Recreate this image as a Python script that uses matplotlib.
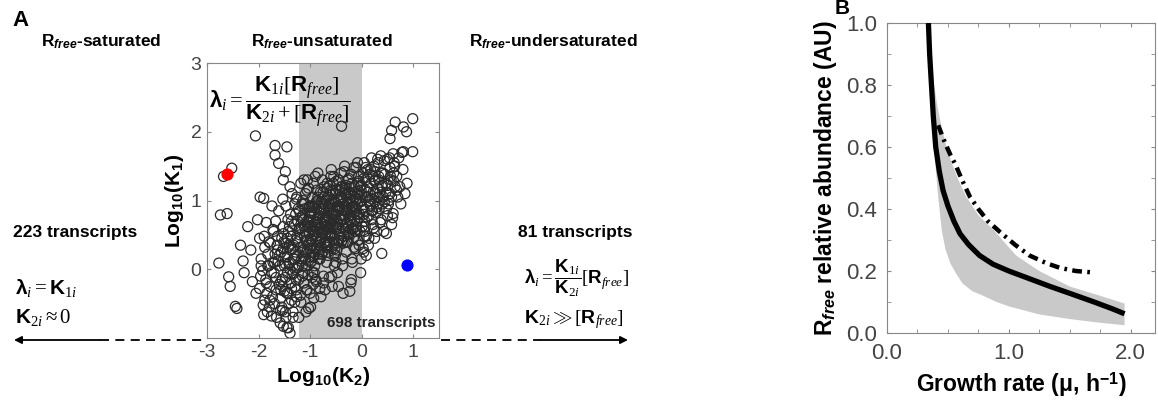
import matplotlib
matplotlib.use("Agg")
from matplotlib import pyplot as plt
from matplotlib.ticker import MultipleLocator, FixedLocator

plt.rcParams['font.family'] = ['Liberation Sans', 'DejaVu Sans']
plt.rcParams['axes.unicode_minus'] = False
plt.rcParams['mathtext.fontset'] = 'custom'
plt.rcParams['mathtext.rm'] = 'Liberation Serif'
plt.rcParams['mathtext.it'] = 'Liberation Serif:italic'
plt.rcParams['mathtext.bf'] = 'Liberation Sans:bold'
plt.rcParams['mathtext.sf'] = 'Liberation Sans:bold:italic'

# ---- panel A: log10(K2) vs log10(K1) ----
k2_core = [-2.35, -2.28, -2.21, -2.15, -2.05, -1.98, -2.30, -2.12, -1.95, -2.02,
           -1.88, -1.82, -1.75, -1.71, -1.66, -1.61, -1.55, -1.52, -1.85, -1.78,
           -1.69, -1.58, -1.63, -1.74, -1.50, -1.92, -1.80, -1.57, -1.67, -1.53,
           -1.48, -1.45, -1.42, -1.40, -1.37, -1.35, -1.32, -1.30, -1.28, -1.25,
           -1.22, -1.20, -1.18, -1.15, -1.13, -1.47, -1.43, -1.38, -1.33, -1.27,
           -1.24, -1.19, -1.16, -1.12, -1.44, -1.36, -1.29, -1.21, -1.14, -1.41,
           -1.09, -1.07, -1.05, -1.03, -1.01, -0.99, -0.97, -0.95, -0.93, -0.91,
           -0.89, -0.87, -0.85, -0.83, -0.81, -0.79, -0.77, -0.75, -0.73, -0.71,
           -1.08, -1.04, -1.00, -0.96, -0.92, -0.88, -0.84, -0.80, -0.76, -0.72,
           -1.06, -1.02, -0.98, -0.94, -0.90, -0.86, -0.82, -0.78, -0.74, -0.70,
           -0.99, -0.91, -0.85, -0.79, -0.73,
           -0.69, -0.67, -0.65, -0.63, -0.61, -0.59, -0.57, -0.55, -0.53, -0.51,
           -0.49, -0.47, -0.45, -0.43, -0.41, -0.39, -0.37, -0.35, -0.33, -0.31,
           -0.68, -0.64, -0.60, -0.56, -0.52, -0.48, -0.44, -0.40, -0.36, -0.32,
           -0.66, -0.62, -0.58, -0.54, -0.50, -0.46, -0.42, -0.38, -0.34, -0.30,
           -0.63, -0.55, -0.47, -0.39, -0.58,
           -0.29, -0.27, -0.25, -0.23, -0.21, -0.19, -0.17, -0.15, -0.13, -0.11,
           -0.09, -0.07, -0.05, -0.03, -0.01, 0.01, 0.03, 0.05, 0.07, 0.09,
           -0.28, -0.24, -0.20, -0.16, -0.12, -0.08, -0.04, 0.00, 0.04, 0.08,
           -0.26, -0.18, -0.10, -0.02, 0.06,
           0.11, 0.14, 0.17, 0.20, 0.23, 0.26, 0.29, 0.32, 0.35, 0.38,
           0.41, 0.44, 0.47, 0.50, 0.13, 0.19, 0.25, 0.31, 0.37, 0.43,
           0.16, 0.22, 0.28, 0.34, 0.40,
           0.52, 0.56, 0.60, 0.64, 0.68, 0.72, 0.76, 0.80, 0.84, 0.88,
           0.54, 0.62, 0.70, 0.78, 0.58]
k1_core = [0.35, -0.05, 0.62, 0.28, -0.35, 0.45, 0.12, -0.18, 0.05, 0.72,
           -0.45, 0.22, -0.68, 0.55, -0.12, 0.85, -0.55, 0.30, 0.68, -0.25,
           0.10, -0.78, 0.48, 0.92, 0.05, -0.02, 0.40, -0.30, 0.70, 1.02,
           -0.62, 0.18, -0.85, 0.62, -0.20, 1.10, 0.35, -0.48, 0.80, 0.02,
           -0.70, 0.50, 1.25, -0.10, 0.72, 0.92, -0.35, 0.28, -0.05, 1.02,
           0.40, -0.38, 0.15, 0.95, 0.45, 0.70, -0.25, 0.85, 0.25, 0.08,
           0.55, -0.30, 1.30, 0.12, 0.78, -0.55, 0.42, 1.05, 0.20, 0.65,
           -0.15, 0.88, 1.40, 0.35, 0.60, -0.40, 0.98, 0.25, 1.20, 0.72,
           0.05, 0.68, 0.30, 0.92, -0.05, 0.48, 0.15, 1.12, 0.52, 0.38,
           1.15, 0.90, 0.62, -0.22, 1.35, 0.75, 0.82, 0.45, -0.10, 1.00,
           0.10, 0.55, 0.58, 0.68, 0.85,
           0.70, 1.25, 0.20, 0.95, 0.52, 1.45, -0.25, 0.80, 0.38, 1.10,
           0.62, -0.05, 1.30, 0.88, 0.45, 1.02, 0.15, 0.72, 1.50, 0.58,
           0.32, 0.85, 1.15, 0.62, 0.98, 0.28, 0.75, 1.20, -0.35, 0.92,
           1.05, 0.48, 0.82, 1.35, 0.10, 0.65, 1.00, 0.42, 0.85, 1.22,
           0.60, 0.72, 0.90, 0.78, -0.10,
           0.95, 0.40, 1.32, 0.72, 1.10, 0.15, 0.88, 1.48, 0.55, 1.02,
           0.80, 1.25, 0.35, 0.98, 1.15, 0.62, 1.40, 0.85, 1.05, 0.48,
           0.68, 1.20, -0.15, 0.92, 0.30, 1.55, 0.75, 1.08, 0.25, 1.30,
           0.52, 0.10, 0.85, -0.05, 0.70,
           1.20, 0.78, 1.45, 1.02, 0.60, 1.30, 0.90, 1.55, 1.12, 0.72,
           1.40, 0.98, 1.25, 1.60, 0.35, 1.62, 0.45, 1.18, 1.65, 0.55,
           0.95, 1.35, 0.82, 1.05, 1.22,
           0.95, 1.35, 0.75, 1.50, 1.15, 1.62, 0.95, 1.45, 1.10, 1.25,
           1.62, 1.28, 1.05, 1.70, 0.65]

# extra points filling the dark middle of the cloud
k2_dense = [-1.98, -1.95, -1.91, -1.88, -1.86, -1.83, -1.80, -1.77, -1.73, -1.70,
            -1.68, -1.65, -1.62, -1.60, -1.96, -1.89, -1.84, -1.79, -1.72, -1.64,
            -1.59, -1.57, -1.55, -1.54, -1.52, -1.50, -1.49, -1.47, -1.46, -1.44,
            -1.42, -1.41, -1.39, -1.38, -1.36, -1.34, -1.33, -1.31, -1.29, -1.28,
            -1.26, -1.25, -1.23, -1.22, -1.21, -1.58, -1.53, -1.48, -1.43, -1.37,
            -1.32, -1.27, -1.24, -1.56, -1.45, -1.35, -1.30, -1.51, -1.40, -1.26,
            -1.19, -1.18, -1.16, -1.15, -1.14, -1.12, -1.11, -1.10, -1.08, -1.07,
            -1.05, -1.04, -1.03, -1.01, -1.00, -0.98, -0.97, -0.96, -0.94, -0.93,
            -0.92, -0.90, -0.89, -0.88, -0.86, -0.85, -0.84, -0.82, -0.81, -0.80,
            -1.17, -1.13, -1.09, -1.06, -1.02, -0.99, -0.95, -0.91, -0.87, -0.83,
            -1.15, -1.10, -1.05, -1.00, -0.96, -0.92, -0.88, -0.84, -0.81, -1.12,
            -0.79, -0.78, -0.76, -0.75, -0.74, -0.72, -0.71, -0.70, -0.68, -0.67,
            -0.65, -0.64, -0.63, -0.61, -0.60, -0.58, -0.57, -0.56, -0.54, -0.53,
            -0.52, -0.50, -0.49, -0.48, -0.46, -0.45, -0.44, -0.42, -0.41, -0.40,
            -0.77, -0.73, -0.69, -0.66, -0.62, -0.59, -0.55, -0.51, -0.47, -0.43,
            -0.75, -0.70, -0.65, -0.60, -0.55, -0.50, -0.45, -0.41, -0.71, -0.62,
            -0.39, -0.38, -0.36, -0.35, -0.34, -0.32, -0.31, -0.30, -0.28, -0.27,
            -0.25, -0.24, -0.22, -0.21, -0.20, -0.18, -0.17, -0.15, -0.14, -0.12,
            -0.11, -0.10, -0.08, -0.07, -0.05, -0.04, -0.02, -0.01, -0.37, -0.33,
            -0.29, -0.26, -0.23, -0.19, -0.16, -0.13, -0.09, -0.06, -0.03, -0.35,
            -0.27, -0.20, -0.14, -0.08, -0.02,
            0.02, 0.04, 0.06, 0.08, 0.10, 0.12, 0.15, 0.18, 0.21, 0.24,
            0.27, 0.30, 0.33, 0.36, 0.39, 0.03, 0.07, 0.11, 0.16, 0.20,
            0.25, 0.29, 0.34, 0.38, 0.05, 0.14, 0.22, 0.31, 0.09, 0.26,
            0.42, 0.45, 0.48, 0.51, 0.55, 0.58, 0.62, 0.65, 0.68, 0.44,
            0.50, 0.57, 0.63, 0.47, 0.53]
k1_dense = [-0.28, 0.15, -0.52, 0.32, -0.15, -0.62, 0.05, 0.38, -0.40, -0.05,
            0.22, -0.70, 0.12, -0.22, -0.10, 0.48, -0.35, -0.55, 0.58, 0.35,
            0.05, -0.42, 0.45, -0.15, 0.62, -0.32, 0.18, -0.70, 0.38, -0.05,
            0.55, -0.50, 0.10, 0.80, -0.28, 0.30, -0.62, 0.65, 0.00, 0.42,
            -0.40, 0.20, 0.88, -0.15, 0.58, -0.60, -0.25, 0.08, 0.72, 0.48,
            0.15, -0.30, 0.70, 0.25, -0.85, -0.08, 0.95, 0.52, 0.35, 1.05,
            0.32, -0.48, 0.75, 0.05, 1.00, -0.20, 0.48, 0.88, -0.62, 0.25,
            0.62, -0.08, 1.18, 0.40, -0.35, 0.85, 0.12, 0.58, 1.25, -0.42,
            0.30, 0.95, 0.68, -0.18, 0.45, 1.05, 0.22, 0.78, -0.28, 0.55,
            0.60, 0.18, 1.10, -0.30, 0.72, 0.35, 0.90, 0.05, 1.15, 0.40,
            -0.05, 0.65, 0.28, 0.82, -0.12, 0.50, 0.98, 0.65, 0.15, 1.30,
            0.88, 0.22, 1.30, 0.58, -0.20, 1.05, 0.40, 0.75, 0.10, 1.18,
            0.52, 0.92, -0.12, 0.68, 1.35, 0.30, 0.82, 1.10, 0.45, 0.05,
            0.98, 0.62, 1.28, 0.38, 0.85, -0.25, 1.15, 0.55, 0.72, 1.40,
            0.65, 0.95, 0.35, 0.78, 1.22, 0.48, 1.00, 0.20, 0.70, 0.90,
            1.12, 0.50, 0.25, 0.88, 1.25, 0.80, 0.42, 1.05, -0.30, 0.60,
            0.72, 1.20, 0.38, 0.95, 1.42, 0.60, 1.08, 0.25, 0.85, 1.30,
            0.50, 1.12, 0.78, -0.20, 1.38, 0.65, 1.00, 0.32, 1.20, 0.90,
            1.48, 0.58, 1.10, 0.42, 1.28, 0.80, 1.00, 0.15, 0.05, 1.15,
            0.88, 0.62, 1.02, 1.25, 0.45, 1.05, 0.70, 1.35, 0.55, 0.48,
            1.10, 0.90, 0.72, 0.95, 1.20,
            0.90, 1.32, 0.55, 1.15, 0.75, 1.45, 1.00, 1.25, 0.85, 1.50,
            1.10, 0.95, 1.35, 0.68, 1.20, 0.30, 0.62, 1.05, 1.38, 0.72,
            1.28, 0.55, 0.88, 1.40, 1.55, 0.45, 1.12, 1.60, 0.20, 0.98,
            1.05, 1.38, 0.88, 1.22, 1.48, 1.05, 1.40, 1.20, 1.35, 1.58,
            0.78, 1.30, 1.55, 1.12, 1.00]

# more points in the darkest part of the cloud
k2_extra = [-1.25, -1.18, -1.11, -1.04, -0.97, -0.90, -0.83, -0.76, -0.69, -0.62,
            -0.55, -0.48, -0.41, -0.34, -0.27, -0.20, -0.13, -1.22, -1.15, -1.08,
            -1.01, -0.94, -0.87, -0.80, -0.73, -0.66, -0.59, -0.52, -0.45, -0.38,
            -0.31, -0.24, -0.17, -0.10, -1.28, -1.20, -1.13, -1.06, -0.99, -0.92,
            -0.85, -0.78, -0.71, -0.64, -0.57, -0.50, -0.43, -0.36, -0.29, -0.22,
            -0.15, -1.16, -1.02, -0.88, -0.74, -0.60, -0.46, -0.32, -0.18, -1.09,
            -1.85, -1.78, -1.72, -1.66, -1.60, -1.54, -1.48, -1.42, -1.36, -1.30,
            -1.82, -1.75, -1.69, -1.63, -1.57, -1.51, -1.45, -1.39, -1.33, -1.27,
            -0.95, -0.81, -0.67, -0.53, -0.39, -0.25, -0.11, 0.03, 0.17, 0.31,
            -0.02, 0.12, 0.26, 0.40, 0.05, 0.19, 0.33, -0.06, 0.08, 0.22]
k1_extra = [0.45, 0.12, 0.62, 0.35, 0.82, 0.55, 0.25, 0.95, 0.68, 0.40,
            0.85, 0.60, 1.05, 0.78, 0.95, 0.70, 1.12, 0.05, 0.78, 0.42,
            0.92, 0.18, 0.72, 0.40, 0.88, 0.58, 1.08, 0.30, 1.00, 0.65,
            1.18, 0.88, 0.60, 1.02, 0.25, 0.60, 0.28, 0.70, 0.45, 0.82,
            1.00, 0.32, 0.62, 0.90, 0.50, 1.15, 0.75, 0.95, 0.40, 1.08,
            0.82, 0.95, 0.52, 0.30, 0.75, 0.65, 0.92, 1.12, 0.58, 0.15,
            -0.20, -0.45, 0.10, -0.30, 0.20, -0.60, -0.12, 0.32, -0.45, 0.15,
            0.05, -0.05, -0.50, 0.28, -0.18, 0.40, -0.35, 0.00, -0.70, -0.15,
            -0.05, 0.15, 0.35, 0.22, 0.40, 0.55, 0.62, 0.80, 0.92, 1.05,
            1.22, 1.12, 1.42, 0.95, 0.48, 0.85, 1.30, 1.35, 1.48, 0.65]

k2_outer = [-2.06, -2.52, -2.68, -0.39, 0.65, 0.99, 0.81, 0.55, 0.87, 0.58,
            0.99, 0.81, 0.61, -2.74, -2.61, -2.77, -2.58, -2.55, -2.45, -2.42,
            -1.97, -1.90, -1.68, -1.45, -1.68, -1.61, -1.48, -1.52, -1.39, -1.90,
            -1.52, -1.39, -1.03, -0.23, 0.39, 0.61, 0.48, 0.74, 0.55]
k1_outer = [1.94, 1.47, 1.35, 2.08, 2.14, 2.19, 2.07, 1.90, 2.00, 2.02,
            1.71, 1.71, 1.68, 0.79, 0.81, 0.09, -0.11, -0.25, -0.54, -0.57,
            1.05, 1.03, 1.80, 1.78, 1.66, 1.54, 1.42, 1.30, 1.20, -0.66,
            -0.83, -0.93, -0.57, -0.32, 0.23, 0.81, 0.52, 1.20, 1.10]

red_pt = (-2.61, 1.39)
blue_pt = (0.87, 0.06)
band_a = (-1.21, 0.0)

# ---- panel B: free ribosome abundance vs growth rate ----
solid_mu = [0.34, 0.35, 0.365, 0.38, 0.40, 0.43, 0.46, 0.50, 0.55, 0.60, 0.67,
            0.76, 0.87, 1.0, 1.15, 1.34, 1.5, 1.7, 1.85, 1.95]
solid_r = [1.0, 0.9, 0.8, 0.7, 0.6, 0.52, 0.46, 0.41, 0.36, 0.32, 0.285,
           0.25, 0.222, 0.2, 0.178, 0.15, 0.128, 0.1, 0.078, 0.062]
dd_mu = [0.42, 0.45, 0.48, 0.52, 0.56, 0.62, 0.68, 0.75, 0.83, 0.93, 1.05,
         1.17, 1.31, 1.42, 1.55, 1.7]
dd_r = [0.67, 0.64, 0.61, 0.575, 0.545, 0.49, 0.44, 0.40, 0.36, 0.325, 0.285,
        0.25, 0.225, 0.21, 0.2, 0.195]
band_up_mu = [0.34, 0.36, 0.38, 0.41, 0.45, 0.49, 0.53, 0.59, 0.65, 0.75, 0.88,
              1.06, 1.25, 1.5, 1.75, 1.95]
band_up_r = [1.0, 0.9, 0.82, 0.74, 0.66, 0.6, 0.55, 0.49, 0.44, 0.38, 0.33,
             0.25, 0.2, 0.15, 0.12, 0.095]
band_lo_mu = [0.34, 0.36, 0.38, 0.40, 0.42, 0.45, 0.48, 0.52, 0.57, 0.62, 0.70,
              0.79, 0.9, 1.0, 1.25, 1.5, 1.75, 1.95]
band_lo_r = [1.0, 0.8, 0.65, 0.53, 0.44, 0.33, 0.27, 0.225, 0.19, 0.16, 0.135,
             0.12, 0.1, 0.086, 0.06, 0.045, 0.033, 0.025]

tick_col = "#444444"
spine_col = "#888888"

fig = plt.figure(figsize=(11.58, 4.03), dpi=100)

# panel A
ax = fig.add_axes([207/1158, 1-338/403, 232/1158, 275/403])
ax.axvspan(band_a[0], band_a[1], color="#c9c9c9", lw=0, zorder=0)
ax.scatter(k2_core + k2_dense + k2_extra + k2_outer, k1_core + k1_dense + k1_extra + k1_outer,
           s=52, facecolors="none", edgecolors="#2a2a2a", linewidths=0.9, zorder=2)
ax.scatter([red_pt[0]], [red_pt[1]], s=60, color="#ff0000", zorder=3)
ax.scatter([blue_pt[0]], [blue_pt[1]], s=60, color="#0000ff", zorder=3)
ax.set_xlim(-3, 1.5)
ax.set_ylim(-1, 3)
ax.set_xticks([-3, -2, -1, 0, 1])
ax.set_yticks([0, 1, 2, 3])
ax.tick_params(direction="in", length=3, colors=spine_col, labelcolor=tick_col,
               labelsize=14, top=True, right=True, pad=4)
for s in ax.spines.values():
    s.set_color(spine_col)
ax.set_xlabel(r"Log$_{\mathbf{10}}$(K$_{\mathbf{2}}$)", fontsize=15, fontweight="bold", labelpad=3)
ax.set_ylabel(r"Log$_{\mathbf{10}}$(K$_{\mathbf{1}}$)", fontsize=15, fontweight="bold", labelpad=3)
ax.text(0.985, 0.03, "698 transcripts", transform=ax.transAxes, ha="right", va="bottom",
        fontsize=11, fontweight="bold", color="#222222", zorder=4)
ax.text(0.01, 0.86,
        r"$\mathbf{λ}_{\mathit{i}}=\dfrac{\mathbf{K}_{1\mathit{i}}[\mathbf{R}_{\mathit{free}}]}"
        r"{\mathbf{K}_{2\mathit{i}}+[\mathbf{R}_{\mathit{free}}]}$",
        transform=ax.transAxes, ha="left", va="center", fontsize=16, zorder=4)

# panel B
bx = fig.add_axes([887/1158, 1-333/403, 268/1158, 310/403])
bx.fill(band_up_mu + band_lo_mu[::-1], band_up_r + band_lo_r[::-1], color="#c9c9c9", lw=0, zorder=1)
bx.plot(solid_mu, solid_r, color="black", lw=3.8, solid_capstyle="butt", zorder=3)
bx.plot(dd_mu, dd_r, color="black", lw=3.2, ls=(0, (2.2, 1.2, 0.6, 1.2)), zorder=3)
bx.set_xlim(0, 2.2)
bx.set_ylim(0, 1.0)
bx.xaxis.set_major_locator(FixedLocator([0, 1, 2]))
bx.set_xticklabels(["0.0", "1.0", "2.0"])
bx.xaxis.set_minor_locator(MultipleLocator(0.25))
bx.yaxis.set_major_locator(MultipleLocator(0.2))
bx.yaxis.set_minor_locator(MultipleLocator(0.1))
bx.tick_params(which="both", direction="in", colors=spine_col, labelcolor=tick_col,
               labelsize=16, top=True, right=True, length=3, pad=7)
for s in bx.spines.values():
    s.set_color(spine_col)
bx.set_xlabel(r"Growth rate (μ, h$^{\mathbf{-1}}$)", fontsize=16.5, fontweight="bold", labelpad=5)
bx.set_ylabel(r"R$_{\mathsf{free}}$ relative abundance (AU)", fontsize=16.5, fontweight="bold", labelpad=5)

# annotations in pixel space
ov = fig.add_axes([0, 0, 1, 1])
ov.set_xlim(0, 1158)
ov.set_ylim(403, 0)
ov.axis("off")

ov.text(12, 21, "A", fontsize=16, fontweight="bold", va="center")
ov.text(842, 8, "B", fontsize=15, fontweight="bold", va="center", ha="center")
ov.text(101, 42, r"R$_{\mathsf{free}}$-saturated", fontsize=12.5, fontweight="bold", ha="center", va="center")
ov.text(322, 42, r"R$_{\mathsf{free}}$-unsaturated", fontsize=12.5, fontweight="bold", ha="center", va="center")
ov.text(553, 42, r"R$_{\mathsf{free}}$-undersaturated", fontsize=12.5, fontweight="bold", ha="center", va="center")
ov.text(13, 232, "223 transcripts", fontsize=12.5, fontweight="bold", va="center")
ov.text(633, 232, "81 transcripts", fontsize=12.5, fontweight="bold", va="center", ha="right")
ov.text(15, 288, r"$\mathbf{λ}_{\mathit{i}}=\mathbf{K}_{1\mathit{i}}$", fontsize=15, va="center")
ov.text(15, 318, r"$\mathbf{K}_{2\mathit{i}}\approx 0$", fontsize=15, va="center")
ov.text(524, 278, r"$\mathbf{λ}_{\mathit{i}}=\dfrac{\mathbf{K}_{1\mathit{i}}}{\mathbf{K}_{2\mathit{i}}}[\mathbf{R}_{\mathit{free}}]$",
        fontsize=13.5, va="center")
ov.text(524, 320, r"$\mathbf{K}_{2\mathit{i}}\gg[\mathbf{R}_{\mathit{free}}]$", fontsize=14, va="center")

ov.plot([100, 205], [340, 340], color="black", lw=1.3, ls=(0, (5, 3.5)))
ov.plot([441, 540], [340, 340], color="black", lw=1.3, ls=(0, (5, 3.5)))
ov.annotate("", xy=(14, 340), xytext=(100, 340),
            arrowprops=dict(arrowstyle="-|>", color="black", lw=1.3, mutation_scale=11, shrinkA=0, shrinkB=0))
ov.annotate("", xy=(628, 340), xytext=(540, 340),
            arrowprops=dict(arrowstyle="-|>", color="black", lw=1.3, mutation_scale=11, shrinkA=0, shrinkB=0))

fig.savefig("out.png", dpi=100)
